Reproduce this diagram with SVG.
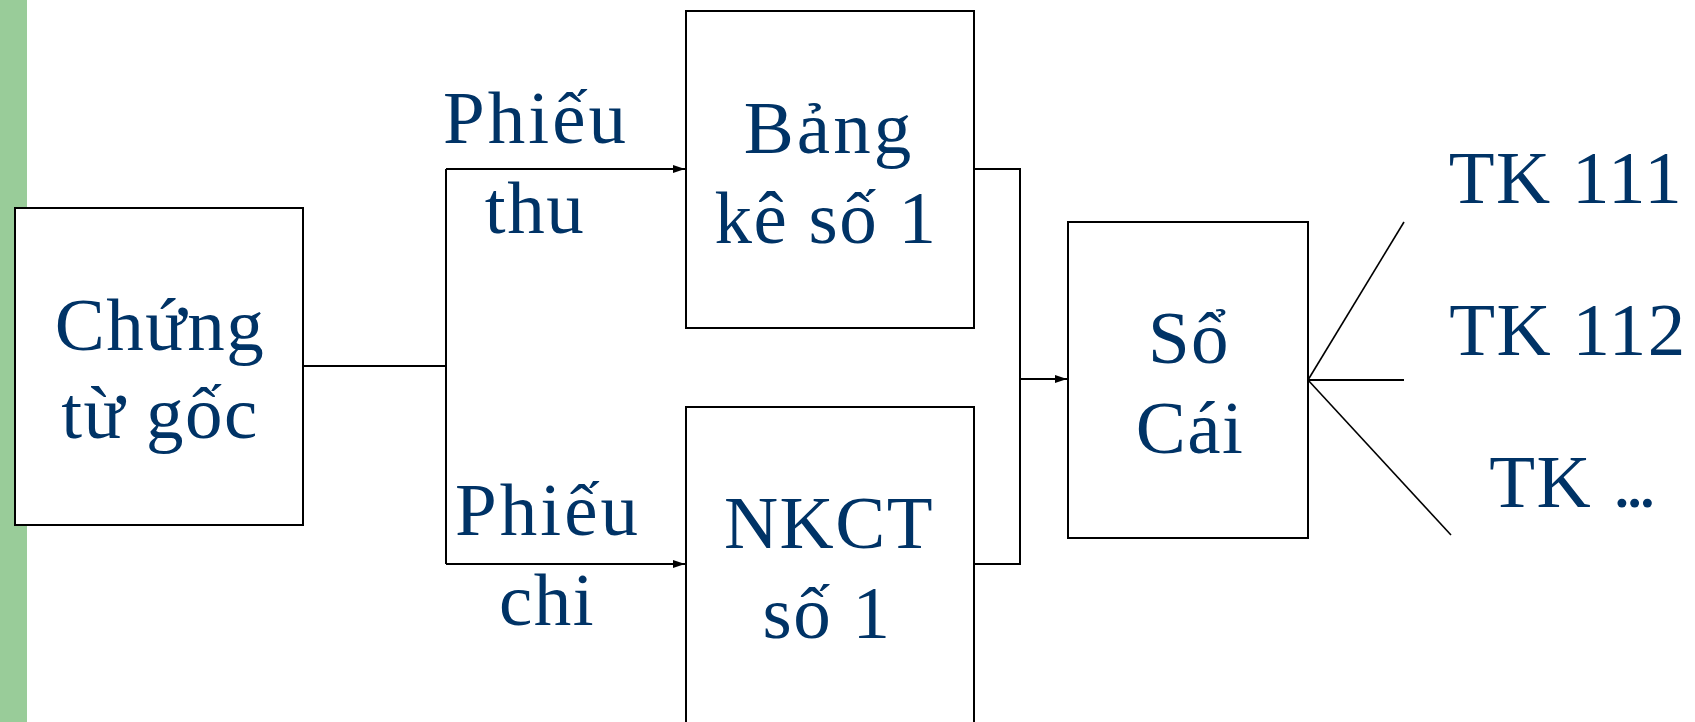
<svg xmlns="http://www.w3.org/2000/svg" width="1695" height="722" viewBox="0 0 1695 722">
<style>
.box{fill:#fff;stroke:#000;stroke-width:2}
.t{font-family:"Liberation Serif","Times New Roman",serif;font-size:75px;letter-spacing:1.5px;fill:#003366;text-anchor:middle}
.w{letter-spacing:3px}
.c{fill:none;stroke:#000;stroke-width:2}
.d{fill:none;stroke:#000;stroke-width:1.6}
</style>
<defs>
<marker id="ah" markerWidth="12" markerHeight="8" refX="12" refY="4" orient="auto" markerUnits="userSpaceOnUse">
<path d="M0,0 L12,4 L0,8 Z" fill="#000"/>
</marker>
</defs>
<rect x="0" y="0" width="27" height="722" fill="#99CC99"/>
<g id="connectors">
<polyline class="c" points="303,366 446,366"/>
<polyline class="c" points="446,169 446,564"/>
<line class="c" x1="446" y1="169" x2="685" y2="169" marker-end="url(#ah)"/>
<line class="c" x1="446" y1="564" x2="685" y2="564" marker-end="url(#ah)"/>
<polyline class="c" points="974,169 1020,169 1020,564 974,564"/>
<line class="c" x1="1020" y1="379" x2="1067" y2="379" marker-end="url(#ah)"/>
<line class="d" x1="1308" y1="380" x2="1404" y2="222"/>
<line class="c" x1="1308" y1="380" x2="1404" y2="380"/>
<line class="d" x1="1308" y1="380" x2="1451" y2="535"/>
</g>
<g id="chung-tu-goc">
<rect class="box" x="15" y="208" width="288" height="317"/>
<text class="t" x="160" y="350">Chứng</text>
<text class="t" x="160" y="438">từ gốc</text>
</g>
<g id="label-phieu-thu">
<text class="t w" x="536" y="143">Phiếu</text>
<text class="t" x="535" y="233">thu</text>
</g>
<g id="label-phieu-chi">
<text class="t w" x="548" y="535">Phiếu</text>
<text class="t" x="547" y="625">chi</text>
</g>
<g id="bang-ke-so-1">
<rect class="box" x="686" y="11" width="288" height="317"/>
<text class="t w" x="829" y="153">Bảng</text>
<text class="t" x="826" y="243">kê số 1</text>
</g>
<g id="nkct-so-1">
<rect class="box" x="686" y="407" width="288" height="330"/>
<text class="t" x="829" y="548">NKCT</text>
<text class="t" x="827" y="638">số 1</text>
</g>
<g id="so-cai">
<rect class="box" x="1068" y="222" width="240" height="316"/>
<text class="t" x="1189" y="363">Sổ</text>
<text class="t" x="1190" y="453">Cái</text>
</g>
<g id="tk-111"><text class="t" x="1566" y="203">TK 111</text></g>
<g id="tk-112"><text class="t" x="1568" y="355">TK 112</text></g>
<g id="tk-etc"><text class="t" x="1570" y="507">TK <tspan style="letter-spacing:-6px">...</tspan></text></g>
</svg>
